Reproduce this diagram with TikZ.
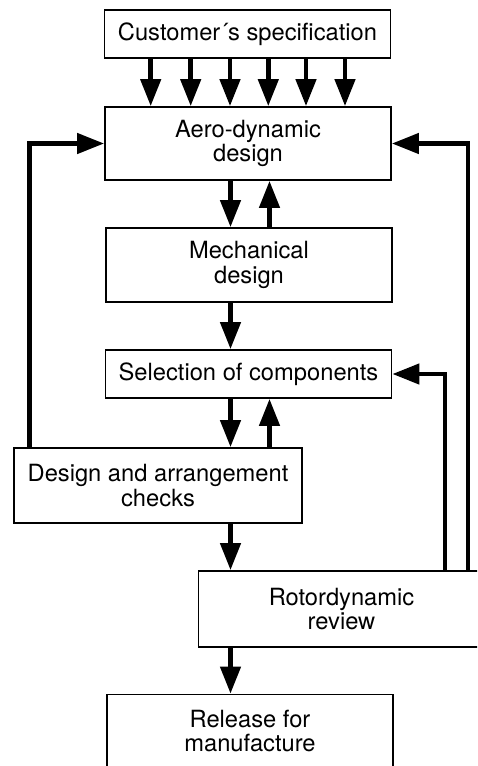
\documentclass[tikz,border=0pt]{standalone}
\usepackage{fontspec}
\setmainfont{TeX Gyre Heros}
\usetikzlibrary{arrows.meta}

\begin{document}
\begin{tikzpicture}[x=1pt,y=-1pt,
  blk/.style={draw,line width=1.8pt,inner sep=0pt,align=center,minimum width=286pt,
    font=\fontsize{23.7pt}{24.5pt}\selectfont},
  arr/.style={line width=4.5pt,-{Triangle[length=27pt,width=20pt]}}]

\useasboundingbox (0,0) rectangle (477,766);
\clip (0,0) rectangle (477,766);

\node[blk,minimum height=48pt] (cust) at (247.5,34) {Customer´s specification};
\node[blk,minimum height=73pt] (aero) at (248,143.5) {Aero-dynamic\\design};
\node[blk,minimum height=74pt] (mech) at (249,265) {Mechanical\\design};
\node[blk,minimum height=48pt] (sel) at (248.5,374) {Selection of components};
\node[blk,minimum height=75pt,minimum width=288pt] (chk) at (158,485.5) {Design and arrangement\\checks};
\node[blk,minimum height=76pt] (rot) at (341.5,609) {Rotordynamic\\review};
\node[blk,minimum height=73pt] (rel) at (250,731) {Release for\\manufacture};

\foreach \x in {150.7,190.7,230,268.3,306,345}
  \draw[arr] (\x,0 |- cust.south) -- (\x,0 |- aero.north);

\draw[arr] (230.5,0 |- aero.south) -- (230.5,0 |- mech.north);
\draw[arr] (269.5,0 |- mech.north) -- (269.5,0 |- aero.south);
\draw[arr] (230.5,0 |- mech.south) -- (230.5,0 |- sel.north);
\draw[arr] (230.5,0 |- sel.south) -- (230.5,0 |- chk.north);
\draw[arr] (269.5,0 |- chk.north) -- (269.5,0 |- sel.south);
\draw[arr] (230.5,0 |- chk.south) -- (230.5,0 |- rot.north);
\draw[arr] (230.5,0 |- rot.south) -- (230.5,0 |- rel.north);

\draw[arr] (29.5,0 |- chk.north) |- (aero.west);
\draw[arr] (468,0 |- rot.north) |- (aero.east);
\draw[arr] (445,0 |- rot.north) |- (sel.east);

\end{tikzpicture}
\end{document}
